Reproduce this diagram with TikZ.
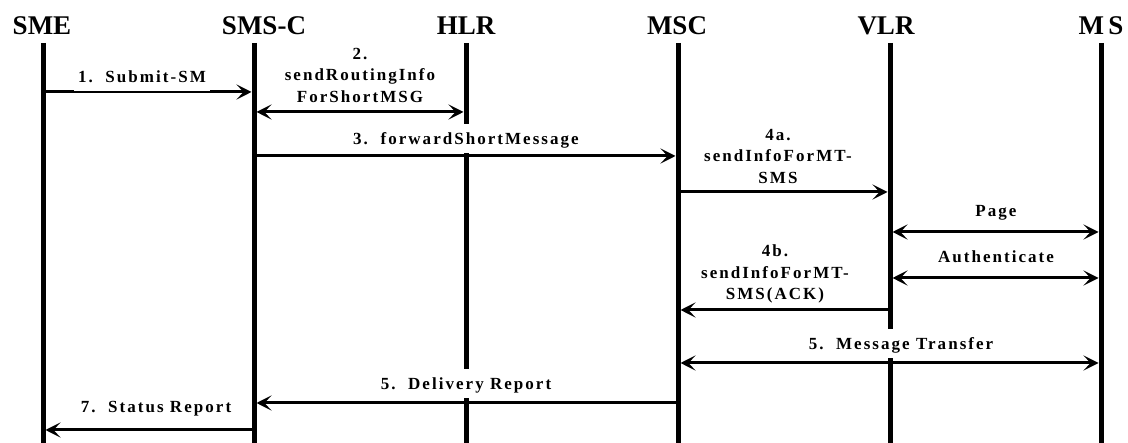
\documentclass[tikz,border=0pt]{standalone}
\usepackage{fontspec}
\setmainfont{Liberation Serif}
\usetikzlibrary{arrows.meta}
\newcommand\lblfont{\fontsize{17}{21.5}\selectfont\bfseries\addfontfeature{LetterSpace=12}}
\begin{document}
\begin{tikzpicture}[x=1pt,y=-1pt,
  head/.style={font=\fontsize{27}{30}\selectfont\bfseries, inner sep=0pt, anchor=base},
  lifeline/.style={line width=5pt},
  msg/.style={line width=3pt, -{Stealth[length=15pt,width=15pt,inset=7pt]}, shorten >=2.5pt},
  msgboth/.style={line width=3pt, {Stealth[length=15pt,width=15pt,inset=7pt]}-{Stealth[length=15pt,width=15pt,inset=7pt]}, shorten >=2.5pt, shorten <=2.5pt},
  lbl/.style={font=\lblfont, fill=white, text height=15pt, text depth=2pt, inner ysep=6pt, inner xsep=4pt, anchor=base},
  lbls/.style={font=\lblfont, align=center, inner sep=0pt}
]
\useasboundingbox (0,0) rectangle (1128,443);

% entity headers
\node[head] (sme)  at (42,35)   {SME};
\node[head] (smsc) at (264,35)  {SMS-C};
\node[head] (hlr)  at (466,35)  {HLR};
\node[head] (msc)  at (677,35)  {MSC};
\node[head] (vlr)  at (886,35)  {VLR};
\node[head] (ms)   at (1101,35) {M\,S};

% lifeline ends
\path (43,43)   coordinate (smeTop)  (43,443)   coordinate (smeBot)
      (254,43)  coordinate (smscTop) (254,443)  coordinate (smscBot)
      (466,43)  coordinate (hlrTop)  (466,443)  coordinate (hlrBot)
      (678,43)  coordinate (mscTop)  (678,443)  coordinate (mscBot)
      (890,43)  coordinate (vlrTop)  (890,443)  coordinate (vlrBot)
      (1101,43) coordinate (msTop)   (1101,443) coordinate (msBot);

\foreach \e in {sme,smsc,hlr,msc,vlr,ms}
  \draw[lifeline] (\e Top) -- (\e Bot);

% message rows
\path (0,92)  coordinate (r1)
      (0,112) coordinate (r2)
      (0,156) coordinate (r3)
      (0,192) coordinate (r4a)
      (0,232) coordinate (rpage)
      (0,278) coordinate (rauth)
      (0,310) coordinate (r4b)
      (0,363) coordinate (r5t)
      (0,403) coordinate (r5d)
      (0,430) coordinate (r7);

\draw[msg]     (smeTop |- r1)   -- (smscTop |- r1);
\draw[msgboth] (smscTop |- r2)  -- (hlrTop |- r2);
\draw[msg]     (smscTop |- r3)  -- (mscTop |- r3);
\draw[msg]     (mscTop |- r4a)  -- (vlrTop |- r4a);
\draw[msgboth] (vlrTop |- rpage) -- (msTop |- rpage);
\draw[msgboth] (vlrTop |- rauth) -- (msTop |- rauth);
\draw[msg]     (vlrTop |- r4b)  -- (mscTop |- r4b);
\draw[msgboth] (mscTop |- r5t)  -- (msTop |- r5t);
\draw[msg]     (mscTop |- r5d)  -- (smscTop |- r5d);
\draw[msg]     (smscTop |- r7)  -- (smeTop |- r7);

% message labels
\node[lbl]  (l1)    at (142,83)  {1.\ \ Submit-SM};
\node[lbls] (l2)    at (360,75)  {2.\\sendRoutingInfo\\ForShortMSG};
\node[lbl]  (l3)    at (466,145) {3.\ \ forwardShortMessage};
\node[lbls] (l4a)   at (778,156) {4a.\\sendInfoForMT-\\SMS};
\node[lbl]  (lpage) at (996,217) {Page};
\node[lbl]  (lauth) at (996,263) {Authenticate};
\node[lbls] (l4b)   at (775,274) {4b.\\sendInfoForMT-\\SMS(ACK)};
\node[lbl]  (l5t)   at (901,350) {5.\ \ Message Transfer};
\node[lbl]  (l5d)   at (466,390) {5.\ \ Delivery Report};
\node[lbl]  (l7)    at (156,413) {7.\ \ Status Report};
\end{tikzpicture}
\end{document}
